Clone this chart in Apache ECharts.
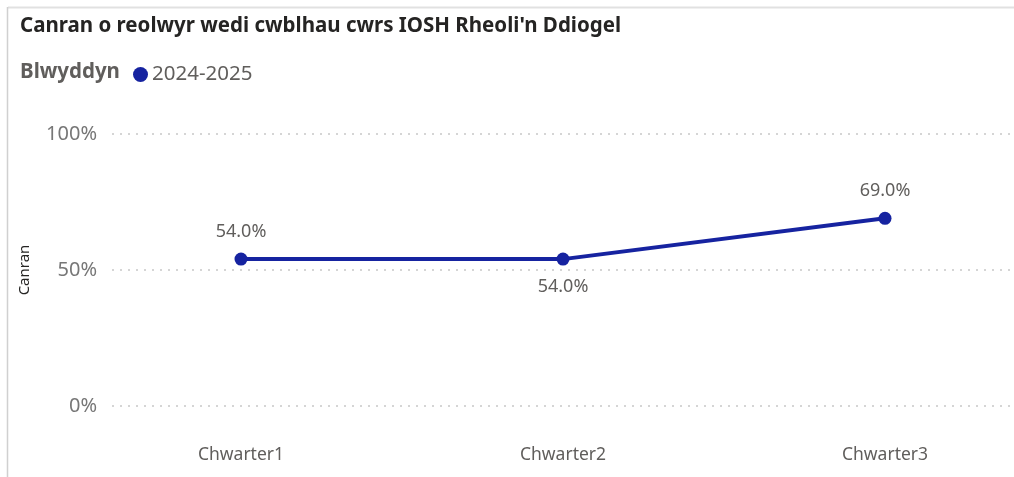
<!DOCTYPE html>
<html>
<head>
<meta charset="utf-8">
<script src="https://cdn.jsdelivr.net/npm/echarts@6/dist/echarts.min.js"></script>
<style>
html,body{margin:0;padding:0;background:#fff;}
#c{width:1014px;height:477px;}
</style>
</head>
<body>
<div id="c"></div>
<script>
var categories = ['Chwarter1', 'Chwarter2', 'Chwarter3'];
var values = [54, 54, 69];
var yTicks = [0, 50, 100];
var seriesName = '2024-2025';
var titleText = "Canran o reolwyr wedi cwblhau cwrs IOSH Rheoli'n Ddiogel";
var legendTitle = 'Blwyddyn';
var yAxisName = 'Canran';

var FONT = "'Noto Sans', 'Open Sans', sans-serif";
var chart = echarts.init(document.getElementById('c'));
chart.setOption({
  animation: false,
  textStyle: { fontFamily: FONT },
  title: [
    { text: titleText, left: 15, top: 11,
      textStyle: { fontSize: 20.5, fontWeight: 'bold', color: '#252423', fontFamily: FONT } },
    { text: legendTitle, left: 15, top: 57,
      textStyle: { fontSize: 20.5, fontWeight: 'bold', color: '#605e5c', fontFamily: FONT } }
  ],
  legend: {
    left: 128, top: 59,
    icon: 'circle', itemWidth: 15, itemHeight: 15, itemGap: 4,
    textStyle: { fontSize: 20.5, color: '#605e5c', padding: [0, 0, 0, -1] },
    data: [seriesName]
  },
  graphic: [
    { type: 'line', shape: { x1: 8, y1: 7.5, x2: 1014, y2: 7.5 }, style: { stroke: '#e1e1e1', lineWidth: 2 } },
    { type: 'line', shape: { x1: 7.5, y1: 7, x2: 7.5, y2: 477 }, style: { stroke: '#d0d0d0', lineWidth: 1.5 } }
  ],
  grid: [
    { left: 241, right: 129, top: 134, bottom: 71 },
    { left: 112, right: 0, top: 134, bottom: 71 }
  ],
  xAxis: [
    { type: 'category', gridIndex: 0, data: categories, boundaryGap: false,
      axisLine: { show: false }, axisTick: { show: false },
      axisLabel: { fontSize: 17.5, color: '#605e5c', margin: 40, fontFamily: FONT } },
    { type: 'category', gridIndex: 1, data: categories, show: false }
  ],
  yAxis: [
    { type: 'value', gridIndex: 0, min: 0, max: 100, interval: 50, show: false,
      splitLine: { show: false } },
    { type: 'value', gridIndex: 1, min: 0, max: 100, interval: 50,
      name: yAxisName, nameLocation: 'middle', nameGap: 80, nameRotate: 90,
      nameTextStyle: { fontSize: 15, color: '#252423', fontFamily: FONT },
      axisLine: { show: false }, axisTick: { show: false },
      axisLabel: { fontSize: 20, color: '#777777', margin: 15, fontFamily: FONT,
        formatter: function (v) { return v + '%'; } },
      splitLine: { show: true, lineStyle: { type: [2, 6], color: '#c8c8c8', width: 1.5 } }
    }
  ],
  series: [{
    name: seriesName,
    type: 'line',
    xAxisIndex: 0, yAxisIndex: 0,
    data: values.map(function (v, i) {
      return { value: v, label: { position: i === 1 ? 'bottom' : 'top' } };
    }),
    color: '#1623a0',
    lineStyle: { width: 4, color: '#1623a0' },
    symbol: 'circle', symbolSize: 13,
    itemStyle: { color: '#1623a0' },
    label: { show: true, fontSize: 18, color: '#605e5c', distance: 12,
      formatter: function (p) { return p.value.toFixed(1) + '%'; } }
  }]
});
</script>
</body>
</html>
